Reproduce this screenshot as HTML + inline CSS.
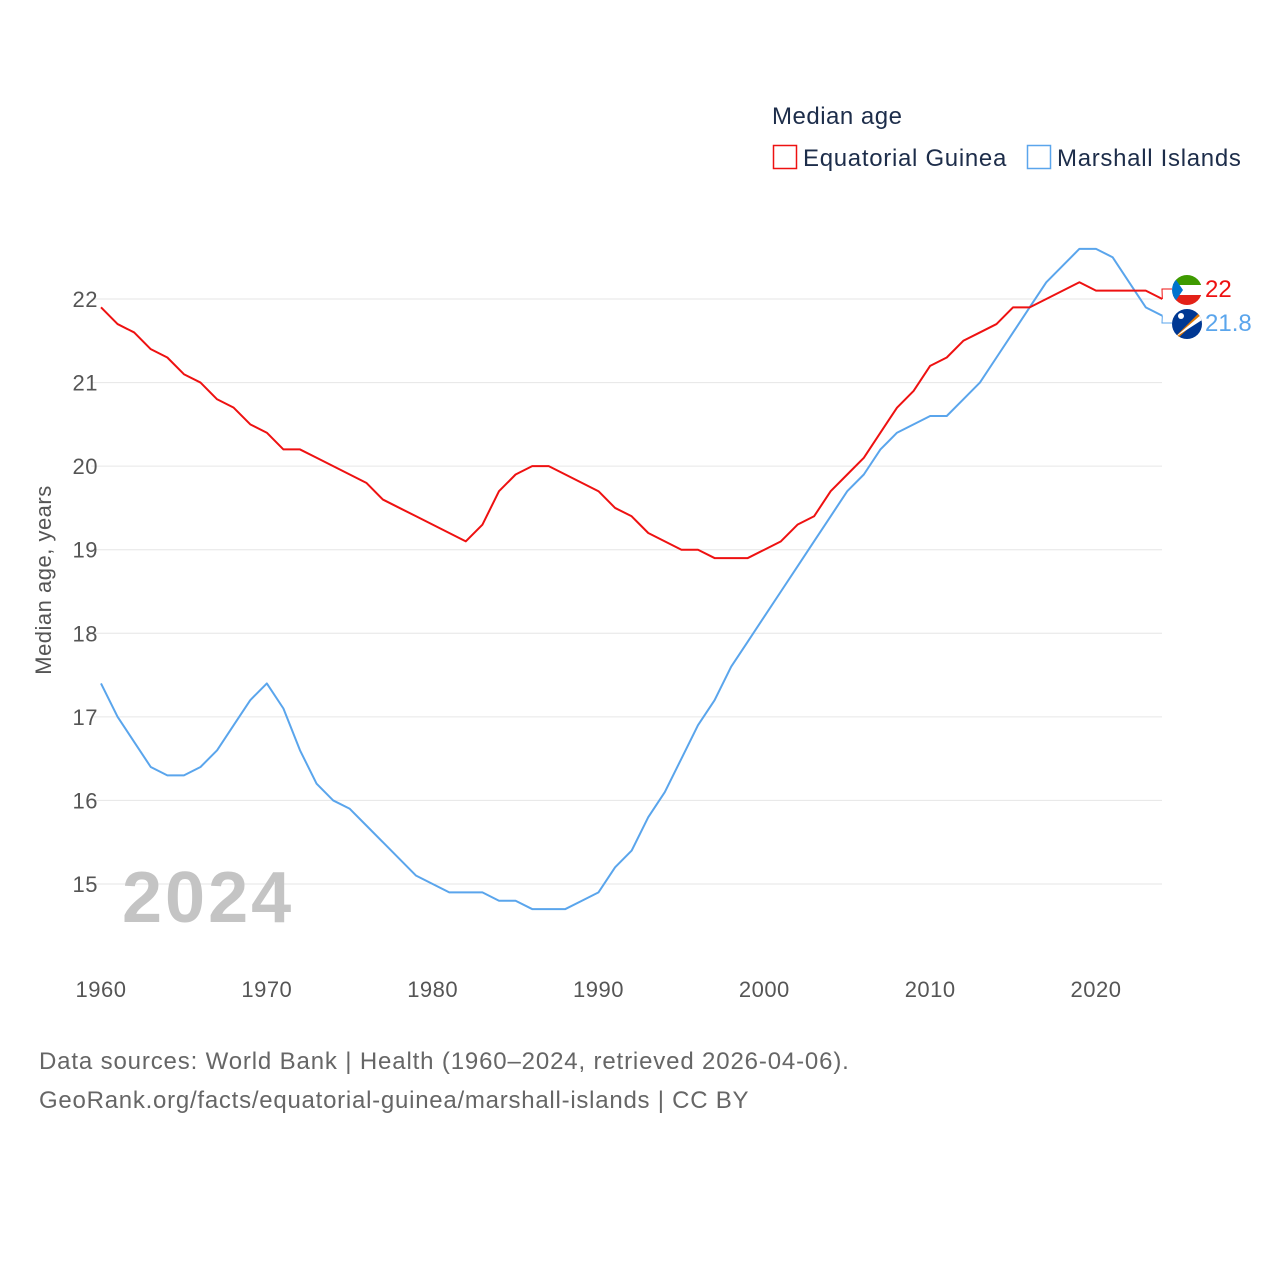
<!DOCTYPE html>
<html><head><meta charset="utf-8">
<style>
body{margin:0;background:#fff;font-family:"Liberation Sans",sans-serif;}
#wrap{position:relative;width:1280px;height:1280px;}
</style></head>
<body>
<div id="wrap">
<svg id="chart" width="1280" height="1280"></svg>
</div>
<script>
const years = [];
for (let y = 1960; y <= 2024; y++) years.push(y);
const eqGuinea = [21.9,21.7,21.6,21.4,21.3,21.1,21.0,20.8,20.7,20.5,20.4,20.2,20.2,20.1,20.0,19.9,19.8,19.6,19.5,19.4,19.3,19.2,19.1,19.3,19.7,19.9,20.0,20.0,19.9,19.8,19.7,19.5,19.4,19.2,19.1,19.0,19.0,18.9,18.9,18.9,19.0,19.1,19.3,19.4,19.7,19.9,20.1,20.4,20.7,20.9,21.2,21.3,21.5,21.6,21.7,21.9,21.9,22.0,22.1,22.2,22.1,22.1,22.1,22.1,22.0];
const marshall = [17.4,17.0,16.7,16.4,16.3,16.3,16.4,16.6,16.9,17.2,17.4,17.1,16.6,16.2,16.0,15.9,15.7,15.5,15.3,15.1,15.0,14.9,14.9,14.9,14.8,14.8,14.7,14.7,14.7,14.8,14.9,15.2,15.4,15.8,16.1,16.5,16.9,17.2,17.6,17.9,18.2,18.5,18.8,19.1,19.4,19.7,19.9,20.2,20.4,20.5,20.6,20.6,20.8,21.0,21.3,21.6,21.9,22.2,22.4,22.6,22.6,22.5,22.2,21.9,21.8];
const yTicks = [15,16,17,18,19,20,21,22];
const xTicks = [1960,1970,1980,1990,2000,2010,2020];

const NS = "http://www.w3.org/2000/svg";
const svg = document.getElementById('chart');
const xs = y => 101 + (y - 1960) * (1096 - 101) / 60;
const ys = v => 884 - (v - 15) * (884 - 299) / 7;
function mk(tag, attrs, text){const e=document.createElementNS(NS,tag);for(const k in attrs)e.setAttribute(k,attrs[k]);if(text!==undefined)e.textContent=text;svg.appendChild(e);return e;}

yTicks.forEach(t=>{
  const l=mk('line',{x1:91,x2:1162,y1:ys(t),y2:ys(t),stroke:'#e6e6e6','stroke-width':1});
  
  
  const tx=mk('text',{x:98,y:ys(t)+8,'text-anchor':'end','font-size':22,fill:'#555','letter-spacing':0.5},t);
  
  
});
xTicks.forEach(t=>{
  const tx=mk('text',{x:xs(t),y:997,'text-anchor':'middle','font-size':22,fill:'#555','letter-spacing':0.5},t);
  
  
});
const yt=mk('text',{x:0,y:0,transform:'translate(51,580) rotate(-90)','text-anchor':'middle','font-size':22,fill:'#555','letter-spacing':0.5},'Median age, years');



const yr=mk('text',{x:122,y:922,'font-size':72,'font-weight':'bold',fill:'#c4c4c4','letter-spacing':3},'2024');



function line(vals,color,name){
  const p=mk('polyline',{points:vals.map((v,i)=>xs(years[i])+','+ys(v)).join(' '),fill:'none',stroke:color,'stroke-width':2,'stroke-linejoin':'round'});
  
  
}
line(marshall,'#5aa5ec','series-marshall-islands');
line(eqGuinea,'#ee1111','series-equatorial-guinea');

const lastE=eqGuinea[eqGuinea.length-1], lastM=marshall[marshall.length-1];
mk('polyline',{points:`${xs(2024)},${ys(lastE)} 1162,289 1172,289`,fill:'none',stroke:'#ee1111','stroke-width':1});
mk('polyline',{points:`${xs(2024)},${ys(lastM)} 1162,323 1172,323`,fill:'none',stroke:'#5aa5ec','stroke-width':1});
const g1=document.createElementNS(NS,'g');
g1.innerHTML='<clipPath id="c1"><circle cx="1187" cy="290" r="15"/></clipPath><g clip-path="url(#c1)"><rect x="1170" y="274" width="34" height="11" fill="#3e9a00"/><rect x="1170" y="285" width="34" height="10" fill="#fff"/><rect x="1170" y="295" width="34" height="11" fill="#e32118"/><polygon points="1172,274 1183,290 1172,306" fill="#0073ce"/></g>';
svg.appendChild(g1);
const g2=document.createElementNS(NS,'g');
g2.innerHTML='<clipPath id="c2"><circle cx="1187" cy="324" r="15"/></clipPath><g clip-path="url(#c2)"><rect x="1170" y="308" width="34" height="34" fill="#003893"/><polygon points="1174,338 1202,310 1202,316 1178,338" fill="#dd7500"/><polygon points="1174,338 1202,314 1202,320" fill="#fff"/><circle cx="1181" cy="316" r="3" fill="#fff"/></g>';
svg.appendChild(g2);
const le=mk('text',{x:1205,y:297,'font-size':24,fill:'#ee1111'},String(lastE).replace('.0',''));


const lm=mk('text',{x:1205,y:331,'font-size':24,fill:'#5aa5ec'},lastM);



const lt=mk('text',{x:772,y:124,'font-size':24,fill:'#1d2d4a','letter-spacing':0.5},'Median age');


const r1=mk('rect',{x:773.5,y:145.5,width:23,height:23,fill:'none',stroke:'#ee1111','stroke-width':1.5});


const t1=mk('text',{x:803,y:166,'font-size':24,fill:'#1d2d4a','letter-spacing':0.7},'Equatorial Guinea');


const r2=mk('rect',{x:1027.5,y:145.5,width:23,height:23,fill:'none',stroke:'#5aa5ec','stroke-width':1.5});


const t2=mk('text',{x:1057,y:166,'font-size':24,fill:'#1d2d4a','letter-spacing':0.7},'Marshall Islands');



const f1=mk('text',{x:39,y:1069,'font-size':24,fill:'#666','letter-spacing':0.85},'Data sources: World Bank | Health (1960–2024, retrieved 2026-04-06).');


const f2=mk('text',{x:39,y:1108,'font-size':24,fill:'#666','letter-spacing':0.75},'GeoRank.org/facts/equatorial-guinea/marshall-islands | CC BY');


</script>
</body></html>
